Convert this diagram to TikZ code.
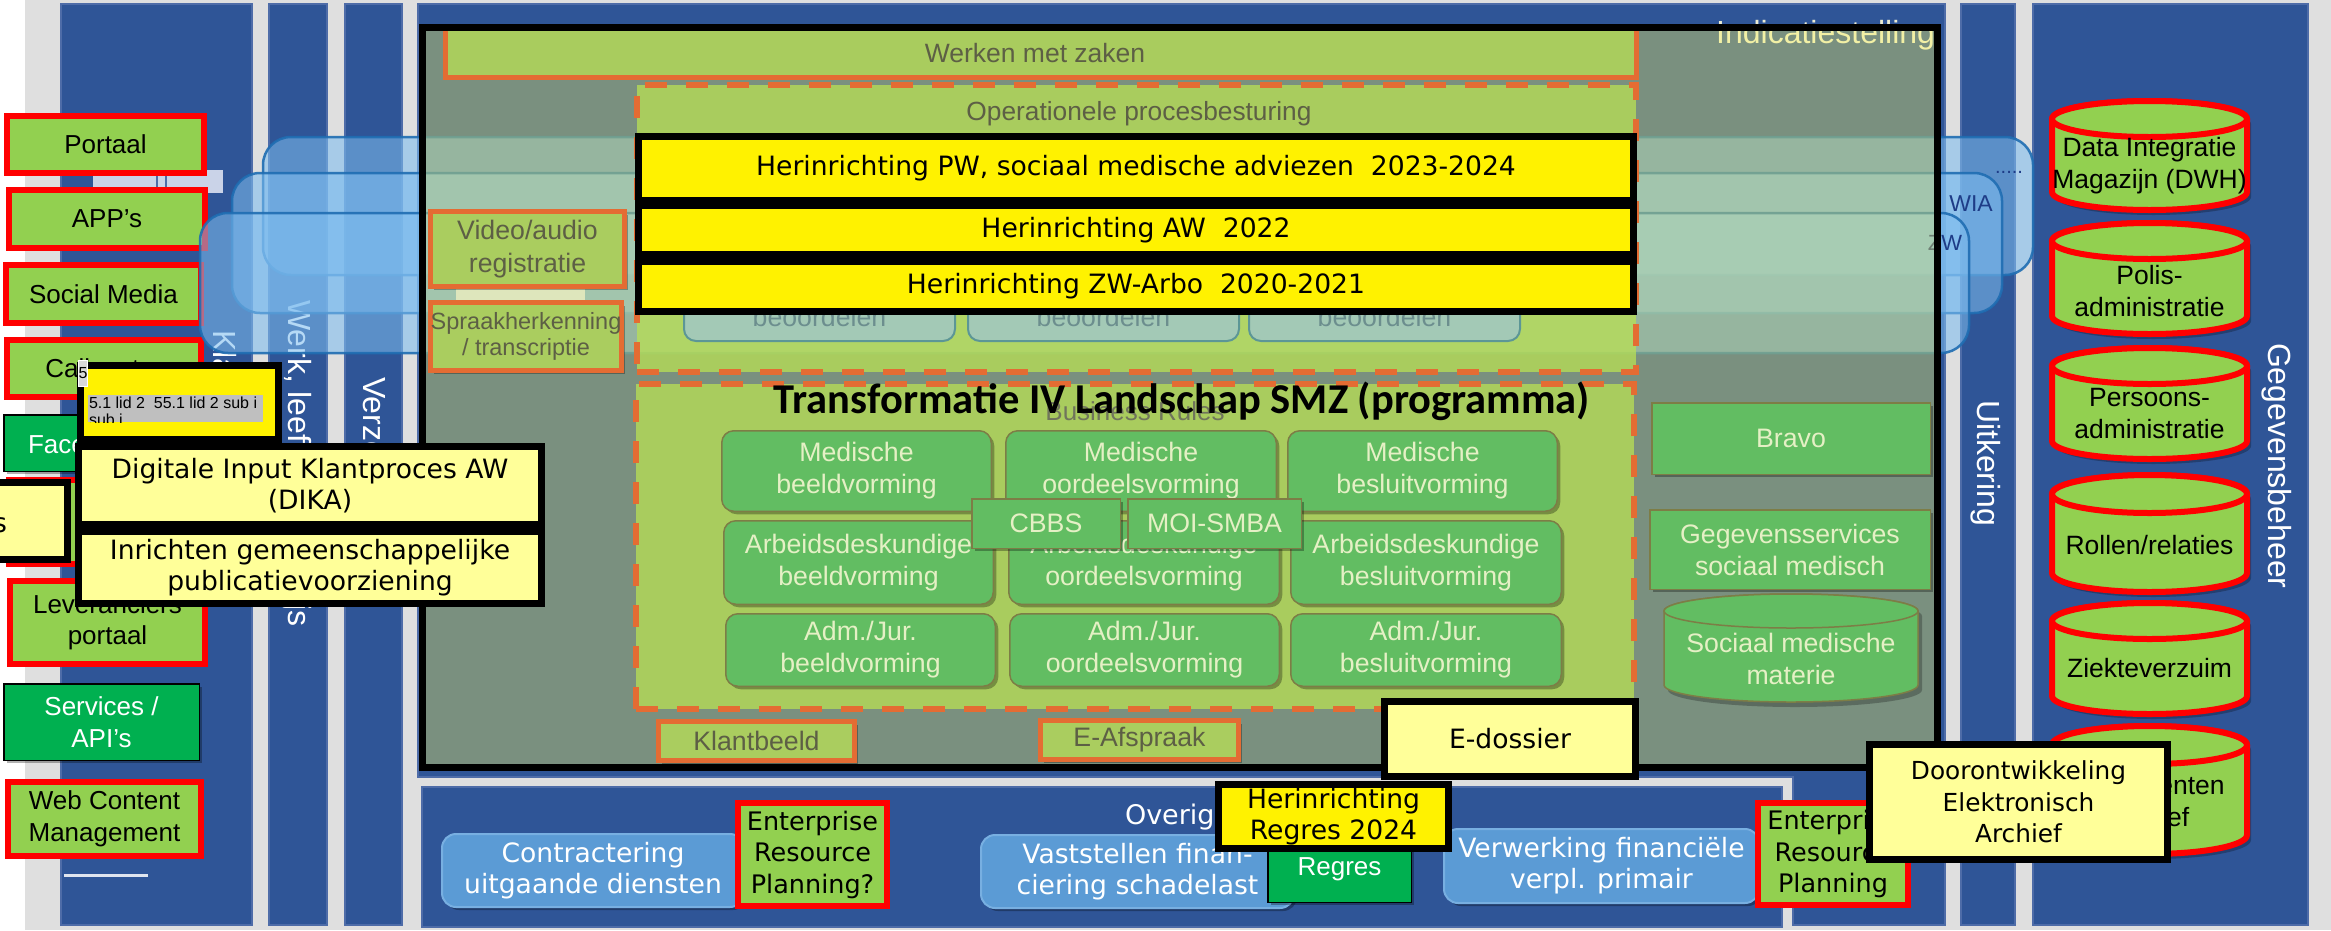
\documentclass[tikz,border=0pt]{standalone}
\usepackage{fontspec}
\setmainfont{Liberation Sans}
\newfontfamily\verd{DejaVu Sans}
\newfontfamily\calb{Carlito}
\usetikzlibrary{shadows}
\definecolor{bgg}{RGB}{223,223,223}
\definecolor{colb}{RGB}{47,85,151}
\definecolor{colbd}{RGB}{78,108,168}
\definecolor{rectf}{RGB}{125,188,239}
\definecolor{rectd}{RGB}{31,109,178}
\definecolor{framef}{RGB}{255,249,87}
\definecolor{grn}{RGB}{186,225,84}
\definecolor{grnop}{RGB}{170,205,95}
\definecolor{orng}{RGB}{228,108,51}
\definecolor{txtol}{RGB}{93,95,69}
\definecolor{bizt}{RGB}{112,117,92}
\definecolor{brg}{RGB}{98,189,98}
\definecolor{brgd}{RGB}{125,125,70}
\definecolor{brgt}{RGB}{229,240,197}
\definecolor{lgreen}{RGB}{146,208,80}
\definecolor{dgreen}{RGB}{0,176,80}
\definecolor{lyel}{RGB}{255,255,153}
\definecolor{lblue}{RGB}{91,155,213}
\definecolor{lbluebd}{RGB}{120,175,225}
\definecolor{beo}{RGB}{163,201,182}
\definecolor{beod}{RGB}{92,150,150}
\definecolor{beot}{RGB}{108,142,142}
\definecolor{indt}{RGB}{235,235,210}
\definecolor{wiat}{RGB}{30,60,135}
\definecolor{lpale}{RGB}{202,211,232}
\definecolor{stripc}{RGB}{222,230,188}
\newcommand{\bx}[8]{\node[#1, minimum width={(#6)-(#4)-2*(#3)}, minimum height={(#7)-(#5)-2*(#3)}] (#2) at ({((#4)+(#6))/2},{((#5)+(#7))/2}) {#8};}
\newcommand{\cylpath}[6]{\path[#6] ({#1-#4},{#2+#5}) -- ({#1-#4},{#3-#5}) arc[start angle=180,end angle=360,x radius=#4pt,y radius=#5pt] -- ({#1+#4},{#2+#5}) arc[start angle=0,end angle=180,x radius=#4pt,y radius=#5pt] -- cycle;}
\newcommand{\cylall}[6]{\cylpath{#1+4}{#2+5}{#3+5}{#4}{#5}{fill=black,opacity=0.25}\cylpath{#1}{#2}{#3}{#4}{#5}{#6}\path[#6] ({#1},{#2+#5}) ellipse[x radius=#4pt,y radius=#5pt];}
\begin{document}
\begin{tikzpicture}[x=1pt,y=-1pt,
  every node/.style={inner sep=0pt, outer sep=0pt},
  shad/.style={drop shadow={shadow xshift=3pt, shadow yshift=-3pt, opacity=0.3, fill=black}},
  colbox/.style={fill=colb, draw=colbd, line width=2pt},
  redbox/.style={shad, draw=red, line width=6pt, fill=lgreen, align=center, font=\fontsize{26}{31.5}\selectfont},
  dgbox/.style={shad, draw=black, line width=1.5pt, fill=dgreen, text=white, align=center, font=\fontsize{26}{31.5}\selectfont},
  lybox/.style={shad, draw=black, line width=7pt, fill=lyel, align=center, font=\verd\fontsize{26.6}{31.5}\selectfont},
  bybox/.style={shad, draw=black, line width=7pt, fill=yellow, align=center, font=\verd\fontsize{26.6}{31.5}\selectfont},
  orbox/.style={shad, draw=orng, line width=5pt, fill=grnop, text=txtol, align=center, font=\fontsize{26.7}{32.5}\selectfont},
  werkbox/.style={draw=orng, line width=5pt, fill=grn, fill opacity=0.75, draw opacity=1},
  dashbox/.style={draw=orng, line width=6pt, dash pattern=on 22pt off 19pt, fill=grn, fill opacity=0.75, draw opacity=1},
  brbox/.style={shad, draw=brgd, line width=1.5pt, fill=brg, text=brgt, align=center, rounded corners=12pt, font=\fontsize{26.7}{32}\selectfont},
  brsq/.style={brbox, sharp corners},
  beobox/.style={draw=beod, line width=2pt, fill=beo, text=beot, rounded corners=12pt, font=\fontsize{26.7}{32}\selectfont},
  lbbox/.style={shad, draw=lbluebd, line width=2pt, fill=lblue, text=white, rounded corners=14pt, align=center, font=\verd\fontsize{26.6}{31}\selectfont},
  trect/.style={fill=rectf, fill opacity=0.565, draw=rectd, draw opacity=0.9, line width=2.5pt, rounded corners=28pt},
  collabel/.style={text=white, rotate=-90, anchor=base west, font=\fontsize{32}{36}\selectfont},
  rlabel/.style={text=wiat, anchor=base, font=\fontsize{23}{26}\selectfont},
]
\useasboundingbox (0,0) rectangle (2331,930);
\fill[white] (0,0) rectangle (2331,930);
\fill[bgg] (25,0) rectangle (2331,930);
% columns and panels
\path[colbox] (61,4) rectangle (252,925);
\path[colbox] (269,4) rectangle (327,925);
\path[colbox] (345,4) rectangle (402,925);
\path[colbox] (418,4) -- (1945,4) -- (1945,925) -- (1793,925) -- (1793,777) -- (418,777) -- cycle;
\path[colbox] (1961,4) rectangle (2015,925);
\path[colbox] (2033,4) rectangle (2308,925);
\path[colbox] (422,787) rectangle (1782,927);
% column labels
\node[collabel] (lkla) at (213,330) {Klantinteractie};
\node[collabel] (lwerk) at (288,300) {Werk, leeftijd en bewijs};
\node[collabel] (lverz) at (363,377) {Verzekering};
\node[collabel] (luitk) at (1977,400) {Uitkering};
\node[collabel] (lgeg) at (2268,343) {Gegevensbeheer};
\node[anchor=base east, text=indt, font=\fontsize{32}{36}\selectfont] (lind) at (1935,43) {Indicatiestelling};
% left channel boxes
\fill[lpale] (93,170) rectangle (223,193);
\draw[colbd, line width=1.5pt] (157,170) -- (157,193) (166,170) -- (166,193);
\bx{redbox}{portaal}{3}{4}{113}{207}{176}{Portaal}
\bx{redbox}{apps}{3}{6}{187}{208}{251}{APP’s}
\bx{redbox}{social}{3}{3}{262}{204}{326}{Social Media}
\bx{redbox}{callc}{3}{4}{337}{204}{400}{Callcenter}
\bx{dgbox}{faceb}{0.75}{3}{414}{205}{472}{}
\node[anchor=base west, text=white, font=\fontsize{26}{31.5}\selectfont] (facet) at (28,453) {Facebook};
\bx{redbox}{hidbox}{3}{6}{477}{206}{567}{}
\bx{redbox}{lever}{3}{7}{578}{208}{667}{Leveranciers\\portaal}
\bx{dgbox}{services}{0.75}{3}{683}{200}{761}{Services /\\API’s}
\bx{redbox}{wcm}{3}{5}{779}{204}{859}{Web Content\\Management}
\draw[white!85!colb, line width=3pt] (64,875) -- (148,875);
% translucent blue product rectangles
\path[trect] (263,137) rectangle (2033,275);
\node[rlabel, font=\fontsize{20}{24}\selectfont] (ldots) at (2009,173) {.....};
\path[trect] (232,173) rectangle (2002,313);
\node[rlabel] (lwia) at (1971,211) {WIA};
\path[trect] (200,213) rectangle (1969,353);
\node[rlabel, font=\fontsize{22}{26}\selectfont] (lzw) at (1945,250) {ZW};
% frame interior
\fill[framef, fill opacity=0.36] (422.5,27.5) rectangle (1937.5,767.5);
% contents of frame
\bx{werkbox}{werken}{2.5}{443}{26}{1639}{80}{}
\node[anchor=base, text=txtol, font=\fontsize{26.5}{32}\selectfont] (werkent) at (1035,62) {Werken met zaken};
\bx{dashbox}{oper}{0}{637}{85}{1636}{372}{}
\node[anchor=base, text=txtol, font=\fontsize{26.3}{32}\selectfont] (opert) at (1139,120) {Operationele procesbesturing};
\bx{beobox}{beo1}{1}{683}{292}{956}{342}{beoordelen}
\bx{beobox}{beo2}{1}{967}{292}{1240}{342}{beoordelen}
\bx{beobox}{beo3}{1}{1248}{292}{1521}{342}{beoordelen}
\fill[stripc] (456,289) rectangle (585,301);
\bx{orbox}{video}{2.5}{428}{209}{627}{289}{Video/audio\\registratie}
\bx{orbox, font=\fontsize{23.5}{25.5}\selectfont}{spraak}{2.5}{428}{300}{624}{373}{Spraakherkenning\\/ transcriptie}
\bx{bybox}{zw}{3.5}{635}{258}{1637}{315}{Herinrichting ZW-Arbo~ 2020-2021}
\bx{bybox}{aw}{3.5}{635}{202}{1637}{258}{Herinrichting AW~ 2022}
\bx{bybox}{pw}{3.5}{635}{133}{1637}{204}{Herinrichting PW, sociaal medische adviezen~ 2023-2024}
\bx{dashbox}{transf}{0}{636}{384}{1634}{709}{}
\node[anchor=base, text=bizt, font=\fontsize{26}{32}\selectfont] (busr) at (1135,420) {Business Rules};
\node[anchor=base, font=\calb\bfseries\fontsize{42.5}{47}\selectfont] (title) at (1182,413) {Transformatie IV Landschap SMZ (programma)};
\bx{brbox}{mb}{0.75}{721}{430}{992}{512}{Medische\\beeldvorming}
\bx{brbox}{mo}{0.75}{1005}{430}{1277}{512}{Medische\\oordeelsvorming}
\bx{brbox}{ms}{0.75}{1287}{430}{1558}{512}{Medische\\besluitvorming}
\bx{brbox}{ab}{0.75}{723}{520}{994}{605}{Arbeidsdeskundige\\beeldvorming}
\bx{brbox}{ao}{0.75}{1008}{520}{1280}{605}{Arbeidsdeskundige\\oordeelsvorming}
\bx{brbox}{as}{0.75}{1290}{520}{1562}{605}{Arbeidsdeskundige\\besluitvorming}
\bx{brbox}{jb}{0.75}{725}{613}{996}{687}{Adm./Jur.\\beeldvorming}
\bx{brbox}{jo}{0.75}{1009}{613}{1280}{687}{Adm./Jur.\\oordeelsvorming}
\bx{brbox}{js}{0.75}{1290}{613}{1562}{687}{Adm./Jur.\\besluitvorming}
\bx{brsq}{cbbs}{0.75}{971}{498}{1121}{549}{CBBS}
\bx{brsq}{moi}{0.75}{1127}{498}{1302}{549}{MOI-SMBA}
\bx{brsq}{bravo}{0.75}{1651}{402}{1931}{475}{Bravo}
\bx{brsq}{gss}{0.75}{1649}{509}{1931}{590}{Gegevensservices\\sociaal medisch}
\cylall{1791}{594}{702}{127}{17}{fill=brg, draw=brgd, line width=1.5pt}
\node[text=brgt, align=center, font=\fontsize{26.7}{32}\selectfont] (smm) at (1791,659) {Sociaal medische\\materie};
\bx{orbox}{klantb}{2.5}{656}{719}{857}{763}{Klantbeeld}
\bx{orbox}{eafs}{2.5}{1038}{718}{1241}{762}{E-Afspraak}
\node[draw=black, line width=7pt, minimum width=1515, minimum height=740] (frame) at (1180,397.5) {};
% Overige panel
\node[anchor=base west, text=white, font=\verd\fontsize{27}{32}\selectfont] (overt) at (1125,824) {Overige};
\bx{lbbox}{contr}{1}{441}{833}{745}{908}{Contractering\\uitgaande diensten}
\bx{redbox, font=\verd\fontsize{25.5}{31.5}\selectfont}{erp1}{3}{735}{800}{890}{909}{Enterprise\\Resource\\Planning?}
\bx{lbbox}{vast}{1}{980}{834}{1295}{909}{Vaststellen finan-\\ciering schadelast}
\bx{dgbox}{regres}{0.75}{1267}{835}{1412}{903}{Regres}
\bx{lbbox}{verw}{1}{1443}{828}{1760}{904}{Verwerking financiële\\verpl. primair}
\bx{redbox, font=\verd\fontsize{25.5}{31.5}\selectfont}{erp2}{3}{1755}{800}{1911}{908}{Enterprise\\Resource\\Planning}
% data stores
\cylall{2149.5}{101}{210}{97.5}{18}{fill=lgreen, draw=red, line width=6pt}
\node[align=center, font=\fontsize{26.5}{32}\selectfont] (dwh) at (2149.5,166) {Data Integratie\\Magazijn (DWH)};
\cylall{2149.5}{223}{334}{97.5}{18}{fill=lgreen, draw=red, line width=6pt}
\node[align=center, font=\fontsize{26.5}{32}\selectfont] (polis) at (2149.5,291) {Polis-\\administratie};
\cylall{2149.5}{348}{459}{97.5}{18}{fill=lgreen, draw=red, line width=6pt}
\node[align=center, font=\fontsize{26.5}{32}\selectfont] (pers) at (2149.5,414) {Persoons-\\administratie};
\cylall{2149.5}{475}{592}{97.5}{19}{fill=lgreen, draw=red, line width=6pt}
\node[align=center, font=\fontsize{26.5}{32}\selectfont] (rollen) at (2149.5,545) {Rollen/relaties};
\cylall{2149.5}{603}{714}{97.5}{18}{fill=lgreen, draw=red, line width=6pt}
\node[align=center, font=\fontsize{26.5}{32}\selectfont] (ziekte) at (2149.5,668) {Ziekteverzuim};
\cylall{2149.5}{726}{854}{97.5}{19}{fill=lgreen, draw=red, line width=6pt}
\node[align=center, font=\fontsize{26.5}{32}\selectfont] (docu) at (2149.5,801) {Documenten\\archief};
% overlay project boxes
\bx{bybox}{lid}{3.5}{77}{362}{282}{443}{}
\fill[gray!50] (88,395) rectangle (263,422);
\begin{scope}
\clip (88,395) rectangle (263,422);
\node[anchor=north west, align=left, font=\fontsize{16}{16.5}\selectfont] (lidt) at (89,397) {5.1 lid 2~ 55.1 lid 2 sub i\\sub i};
\end{scope}
\node[fill=gray!30, draw=white, line width=1pt, minimum width=8, minimum height=26, font=\fontsize{16}{19}\selectfont] (lid5) at (83,373) {5};
\bx{lybox}{dika}{3.5}{75}{443}{545}{528}{Digitale Input Klantproces AW\\(DIKA)}
\bx{lybox}{inricht}{3.5}{75}{528}{545}{607}{Inrichten gemeenschappelijke\\publicatievoorziening}
\bx{lybox}{sbox}{3.5}{-100}{479}{71}{563}{}
\node[anchor=base east, font=\verd\fontsize{26.6}{31.5}\selectfont] (stxt) at (7,532) {s};
\bx{lybox}{edos}{3.5}{1381}{698}{1639}{780}{E-dossier}
\bx{bybox}{herreg}{3.5}{1215}{781}{1452}{852}{Herinrichting\\Regres 2024}
\bx{lybox, font=\verd\fontsize{24.8}{31.5}\selectfont}{doorontw}{3.5}{1866}{741}{2171}{863}{Doorontwikkeling\\Elektronisch\\Archief}
\end{tikzpicture}
\end{document}
